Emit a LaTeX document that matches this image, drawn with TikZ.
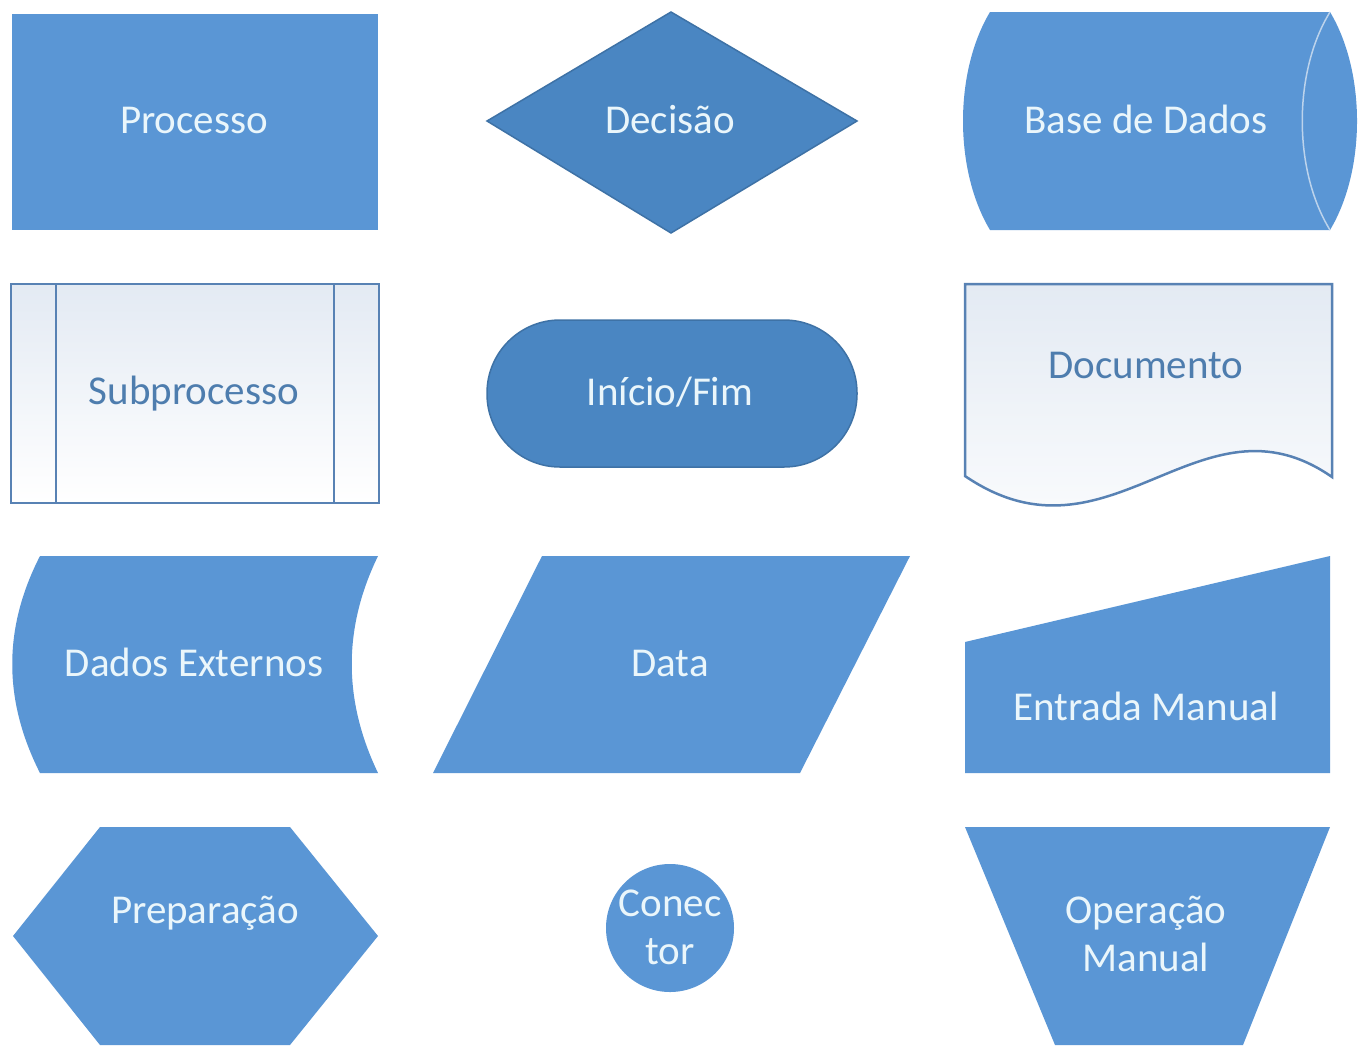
\documentclass[tikz,border=0pt]{standalone}
\usepackage{fontspec}
\setmainfont{Carlito}
\usepackage{tikz}
\usetikzlibrary{shadows}

\definecolor{fluxblue}{HTML}{5A96D5}
\definecolor{fluxdark}{HTML}{4A86C2}
\definecolor{fluxedge}{HTML}{3E72A6}
\definecolor{fluxline}{HTML}{5882B4}
\definecolor{fluxtext}{HTML}{EAF6FB}
\definecolor{fluxink}{HTML}{4E7DAE}
\definecolor{paleblue}{HTML}{E3EAF3}
\definecolor{innerline}{HTML}{BCD3EC}

\begin{document}
\begin{tikzpicture}[x=1pt, y=-1pt,
    bluefill/.style={fill=fluxblue},
    darkfill/.style={fill=fluxdark, draw=fluxedge, line width=1.5pt},
    outline/.style={draw=fluxline, line width=2.5pt, top color=paleblue, bottom color=white},
    label/.style={text=fluxtext, font=\fontsize{41pt}{48pt}\selectfont, anchor=base},
    paletext/.style={label, text=fluxink},
    twoline/.style={text=fluxtext, font=\fontsize{41pt}{48pt}\selectfont, align=center}]
    \useasboundingbox[fill=white] (0,0) rectangle (1364,1050);

    % Processo
    \fill[bluefill] (12,14) rectangle (378,230);
    \node[label] (processo) at (194,133) {Processo};

    % Decisao
    \draw[darkfill] (487,121) -- (671,12) -- (857,121) -- (671,233) -- cycle;
    \node[label] (decisao) at (670,133) {Decisão};

    % Base de Dados
    \fill[bluefill] (990,12) -- (1330,12) .. controls (1366,72) and (1366,170) .. (1330,230)
        -- (990,230) .. controls (954,170) and (954,72) .. (990,12) -- cycle;
    \draw[innerline, line width=1.5pt] (1330,12) .. controls (1293,72) and (1293,170) .. (1330,230);
    \node[label] (base) at (1146,133) {Base de Dados};

    % Subprocesso
    \draw[outline] (11,284) rectangle (379,503);
    \draw[fluxline, line width=2.5pt] (56,284) -- (56,503);
    \draw[fluxline, line width=2.5pt] (334,284) -- (334,503);
    \node[paletext] (sub) at (194,404) {Subprocesso};

    % Inicio/Fim
    \draw[darkfill, rounded corners=73pt] (487,320) rectangle (857,467);
    \node[label] (inicio) at (670,405) {Início/Fim};

    % Documento
    \draw[outline] (965,284) -- (1332,284) -- (1332,477)
        .. controls (1200,385) and (1110,575) .. (965,476) -- cycle;
    \node[paletext] (doc) at (1146,378) {Documento};

    % Dados Externos
    \fill[bluefill] (40,556) -- (378,556) .. controls (343,628) and (343,700) .. (378,773)
        -- (40,773) .. controls (3,700) and (3,628) .. (40,556) -- cycle;
    \node[label] (externos) at (194,676) {Dados Externos};

    % Data
    \fill[bluefill] (542,556) -- (910,556) -- (800,773) -- (433,773) -- cycle;
    \node[label] (data) at (670,676) {Data};

    % Entrada Manual
    \fill[bluefill] (965,642) -- (1330,556) -- (1330,773) -- (965,773) -- cycle;
    \node[label] (entrada) at (1146,720) {Entrada Manual};

    % Preparacao
    \fill[bluefill] (13,936) -- (100,827) -- (290,827) -- (378,936) -- (290,1045) -- (100,1045) -- cycle;
    \node[label] (prep) at (205,923) {Preparação};

    % Conector
    \fill[bluefill] (670,928) circle [radius=64pt];
    \node[twoline] (conector) at (670,927) {Conec\\tor};

    % Operacao Manual
    \fill[bluefill] (965,827) -- (1330,827) -- (1243,1045) -- (1055,1045) -- cycle;
    \node[twoline] (operacao) at (1146,934) {Operação\\Manual};
\end{tikzpicture}
\end{document}
